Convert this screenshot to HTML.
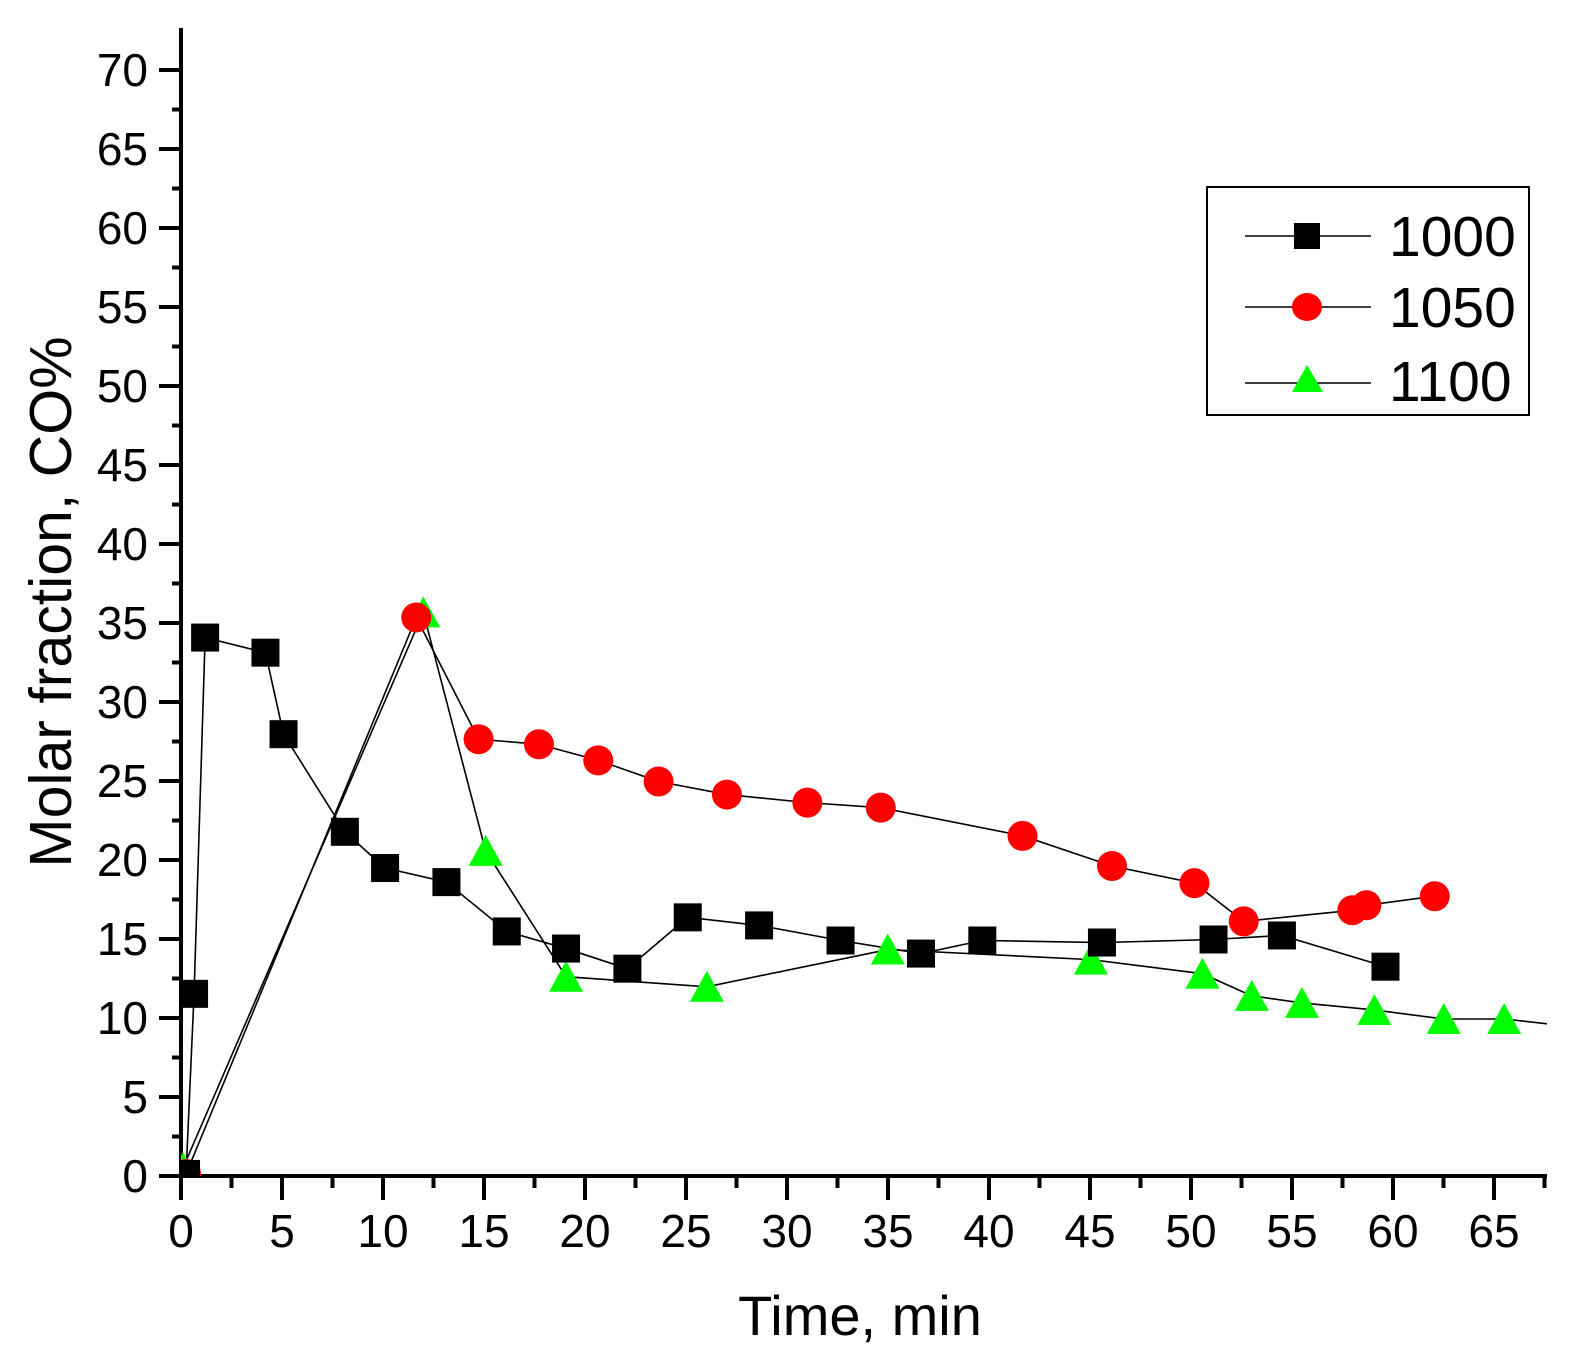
<!DOCTYPE html>
<html><head><meta charset="utf-8"><style>
html,body{margin:0;padding:0;background:#fff;}
svg{display:block;}
text{font-family:"Liberation Sans",Arial,sans-serif;fill:#000;}
</style></head><body>
<svg id="s" width="1577" height="1370" viewBox="0 0 1577 1370" xmlns="http://www.w3.org/2000/svg">
<defs><clipPath id="c"><rect x="181" y="28" width="1366" height="1148"/></clipPath></defs>
<g id="ax"></g>
<g id="data" clip-path="url(#c)"></g>
<text x="860" y="1335" font-size="56" text-anchor="middle">Time, min</text>
<text transform="translate(71,602) rotate(-90)" font-size="59" text-anchor="middle">Molar fraction, CO%</text>
<rect x="1207" y="187" width="322" height="228" fill="#fff" stroke="#000" stroke-width="2"/>
<line x1="1245" y1="236" x2="1371" y2="236" stroke="#000" stroke-width="1.5"/>
<rect x="1294" y="223" width="26" height="26" fill="#000"/>
<text x="1389" y="256" font-size="57">1000</text>
<line x1="1245" y1="307" x2="1371" y2="307" stroke="#000" stroke-width="1.5"/>
<ellipse cx="1307" cy="307" rx="15" ry="14" fill="#f00"/>
<text x="1389" y="327" font-size="57">1050</text>
<line x1="1245" y1="383" x2="1371" y2="383" stroke="#000" stroke-width="1.5"/>
<polygon points="1292,392 1323,392 1307,365" fill="#0f0"/>
<text x="1389" y="401" font-size="57">1100</text>
</svg>
<script>
var NS="http://www.w3.org/2000/svg";
function el(p,t,a){var e=document.createElementNS(NS,t);for(var k in a)e.setAttribute(k,a[k]);p.appendChild(e);return e;}
var ax=document.getElementById('ax'),dg=document.getElementById('data');
var X0=181,XS=20.2,Y0=1176,YS=15.8;
el(ax,'line',{x1:181,y1:28,x2:181,y2:1178,stroke:'#000','stroke-width':4});
el(ax,'line',{x1:179,y1:1176,x2:1547,y2:1176,stroke:'#000','stroke-width':4});
for(var v=0;v<=70;v+=2.5){var y=Y0-v*YS;var maj=(v%5==0);
 el(ax,'line',{x1:maj?159:172,y1:y,x2:181,y2:y,stroke:'#000','stroke-width':4});
 if(maj){var t=el(ax,'text',{x:148,y:y+16,'font-size':46,'text-anchor':'end'});t.textContent=v;}}
for(var v=0;v<=67.5;v+=2.5){var x=X0+v*XS;var maj=(v%5==0);
 el(ax,'line',{x1:x,y1:1176,x2:x,y2:maj?1200:1188,stroke:'#000','stroke-width':4});
 if(maj){var t=el(ax,'text',{x:x,y:1247,'font-size':46,'text-anchor':'middle'});t.textContent=v;}}
function tr(p){return [181+(p[0]-181)*1.0054,1176-(1168-p[1])*1.0064];}
var s1=[[186,1166],[194,987],[205,633],[265,648],[283,729],[344,826],[384,862],[445,876],[505,925],[564,942],[625,962],[685,911],[756,919],[837,934],[917,947],[978,934],[1097,936],[1208,933],[1276,929],[1379,960]].map(tr);
var s2=[[186,1166],[415,613],[477,734],[537,739],[596,755],[656,776],[724,789],[804,797],[877,802],[1018,830],[1107,860],[1189,877],[1238,915],[1346,904],[1360,899],[1428,890]].map(tr);
var s3=[[183,1160],[422,608],[484,845],[564,970],[704,980],[884,943],[1086,953],[1197,967],[1246,989],[1296,996],[1368,1003],[1437,1012],[1497,1012],[1560,1019]].map(tr);
function line(s){el(dg,'polyline',{points:s.map(function(p){return p.join(',')}).join(' '),fill:'none',stroke:'#000','stroke-width':1.6});}
line(s1);line(s2);line(s3);
s3.forEach(function(p){var x=p[0],y=p[1];el(dg,'polygon',{points:(x-17)+','+(y+15)+' '+(x+17)+','+(y+15)+' '+x+','+(y-16),fill:'#0f0'});});
s2.forEach(function(p){el(dg,'ellipse',{cx:p[0],cy:p[1],rx:15,ry:15,fill:'#f00'});});
s1.forEach(function(p){el(dg,'rect',{x:p[0]-14,y:p[1]-14,width:28,height:28,fill:'#000'});});
</script>
</body></html>
